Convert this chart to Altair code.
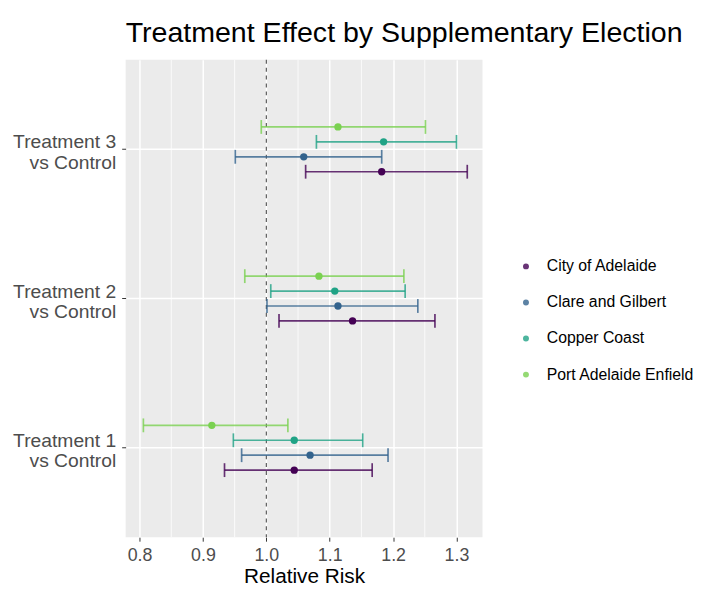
import altair as alt
import pandas as pd

comparisons = ["Treatment 1 vs Control", "Treatment 2 vs Control", "Treatment 3 vs Control"]
elections = ["City of Adelaide", "Clare and Gilbert", "Copper Coast", "Port Adelaide Enfield"]
colors = ["#440154", "#33638D", "#20A386", "#7AD151"]

# estimates / lower / upper, per comparison, in election order
est_t1 = [1.044, 1.069, 1.044, 0.914]
low_t1 = [0.934, 0.961, 0.948, 0.806]
up_t1 = [1.167, 1.192, 1.152, 1.034]

est_t2 = [1.136, 1.113, 1.108, 1.083]
low_t2 = [1.020, 1.001, 1.007, 0.966]
up_t2 = [1.266, 1.239, 1.219, 1.217]

est_t3 = [1.182, 1.059, 1.185, 1.113]
low_t3 = [1.062, 0.951, 1.079, 0.992]
up_t3 = [1.317, 1.182, 1.300, 1.251]

x_ticks = [0.8, 0.9, 1.0, 1.1, 1.2, 1.3]
x_minor = [0.85, 0.95, 1.05, 1.15, 1.25]
reference = [1.0]

rows = []
for comp, est, low, up in zip(comparisons, [est_t1, est_t2, est_t3],
                              [low_t1, low_t2, low_t3], [up_t1, up_t2, up_t3]):
    for el, e, lo, u in zip(elections, est, low, up):
        rows.append({"comparison": comp, "election": el, "rr": e, "lower": lo, "upper": u})
df = pd.DataFrame(rows)

FONT = "Liberation Sans"
xscale = alt.Scale(domain=[0.778, 1.341], nice=False, zero=False)

y_enc = alt.Y(
    "comparison:N",
    sort=comparisons[::-1],
    scale=alt.Scale(paddingInner=0, paddingOuter=0.1),
    axis=alt.Axis(
        title=None,
        labelExpr="[slice(datum.label, 0, 11), slice(datum.label, 12)]",
        labelAlign="right",
        labelBaseline="middle",
        labelLineHeight=20.5,
        labelFontSize=19.5,
        labelColor="#4D4D4D",
        labelFont=FONT,
        labelPadding=6,
        labelOffset=-7,
        bandPosition=0.5,
        grid=True,
        gridColor="white",
        gridWidth=1.5,
        tickColor="#333333",
        tickSize=4,
        domain=False,
    ),
)
yoff_enc = alt.YOffset(
    "election:N",
    sort=elections[::-1],
    scale=alt.Scale(range=[45.3, 105.7]),
)
color_enc = alt.Color(
    "election:N",
    sort=elections,
    scale=alt.Scale(domain=elections, range=colors),
    legend=alt.Legend(
        title=None,
        orient="none",
        legendX=397,
        legendY=201,
        labelFontSize=16,
        labelFont=FONT,
        labelColor="black",
        symbolType="circle",
        symbolSize=36,
        symbolStrokeWidth=0,
        rowPadding=20.5,
        labelOffset=13,
    ),
)

x_axis = alt.Axis(
    title="Relative Risk",
    values=x_ticks,
    format=".1f",
    labelFontSize=18,
    labelColor="#4D4D4D",
    labelFont=FONT,
    labelPadding=6,
    titleFontSize=21,
    titleFont=FONT,
    titleFontWeight="normal",
    titleColor="black",
    titlePadding=1,
    grid=True,
    gridColor="white",
    gridWidth=1.5,
    tickColor="#333333",
    tickSize=4,
    domain=False,
)

minor = alt.Chart(pd.DataFrame({"m": x_minor})).mark_rule(
    color="white", strokeWidth=0.8
).encode(x=alt.X("m:Q", scale=xscale, axis=x_axis))

ref = alt.Chart(pd.DataFrame({"r": reference})).mark_rule(
    color="#5A5A5A", strokeWidth=1.2, strokeDash=[4, 4]
).encode(x=alt.X("r:Q", scale=xscale))

base = alt.Chart(df)
bars = base.mark_rule(strokeWidth=1.7, opacity=0.8).encode(
    x=alt.X("lower:Q", scale=xscale),
    x2="upper:Q",
    y=y_enc,
    yOffset=yoff_enc,
    color=color_enc,
)
cap_lo = base.mark_tick(size=14, thickness=1.7, opacity=0.8).encode(
    x=alt.X("lower:Q", scale=xscale),
    y=y_enc,
    yOffset=yoff_enc,
    color=color_enc,
)
cap_hi = base.mark_tick(size=14, thickness=1.7, opacity=0.8).encode(
    x=alt.X("upper:Q", scale=xscale),
    y=y_enc,
    yOffset=yoff_enc,
    color=color_enc,
)
pts = base.mark_circle(size=55, opacity=1).encode(
    x=alt.X("rr:Q", scale=xscale),
    y=y_enc,
    yOffset=yoff_enc,
    color=color_enc,
)

chart = alt.layer(minor, ref, bars, cap_lo, cap_hi, pts).properties(
    width=361,
    height=483,
    autosize=alt.AutoSizeParams(type="none"),
    padding={"left": 119, "top": 49, "right": 215, "bottom": 50},
    background="white",
    title=alt.Title(
        "Treatment Effect by Supplementary Election",
        fontSize=28.9,
        font=FONT,
        fontWeight="normal",
        color="black",
        anchor="start",
        frame="group",
        offset=11,
    ),
).configure_view(fill="#EBEBEB", stroke=None)

chart.save("out.html", embed_options={"renderer": "svg", "actions": False})
